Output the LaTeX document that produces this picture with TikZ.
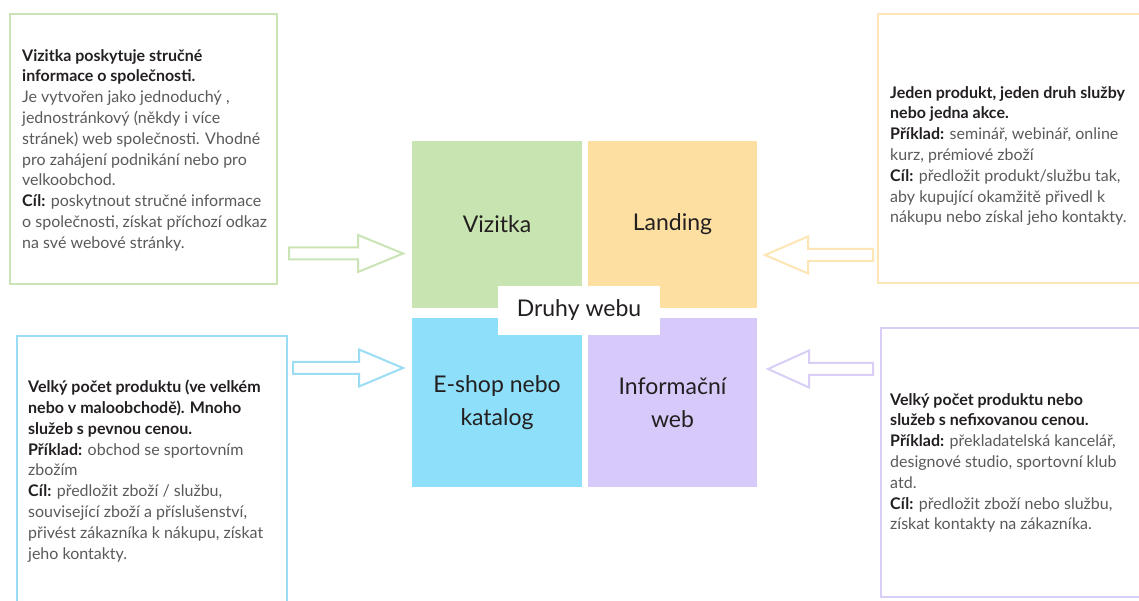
\documentclass[tikz,border=0pt]{standalone}
\usepackage{fontspec}
\setmainfont{Lato}
\usetikzlibrary{calc}
\definecolor{sqGreen}{HTML}{C8E4B0}
\definecolor{sqOrange}{HTML}{FDDFA2}
\definecolor{sqBlue}{HTML}{8EDFFA}
\definecolor{sqPurple}{HTML}{D7C9F9}
\definecolor{bdGreen}{HTML}{CBE4B6}
\definecolor{bdOrange}{HTML}{FDE5B4}
\definecolor{bdBlue}{HTML}{9ADDF4}
\definecolor{bdPurple}{HTML}{D9CFF6}
\definecolor{txtDark}{HTML}{231F20}
\definecolor{txtGrey}{HTML}{5A5A5C}
\newcommand\blockarr[4]{%
  \draw[#4] let \p1=(#1), \p2=(#2) in
    (\x1,{\y1+6pt}) -- ({\x2-(#3)},{\y1+6pt}) -- ({\x2-(#3)},{\y1+18.5pt}) --
    (\x2,\y2) -- ({\x2-(#3)},{\y1-18.5pt}) -- ({\x2-(#3)},{\y1-6pt}) --
    (\x1,{\y1-6pt}) -- cycle;}
\begin{document}
\begin{tikzpicture}[x=1pt,y=1pt,
  infobox/.style={draw, line width=2.6pt, fill=white, inner sep=0pt},
  infotext/.style={anchor=north west, align=left, inner sep=0pt, text=txtGrey,
    font=\fontsize{16}{20.8}\selectfont},
  square/.style={inner sep=0pt, align=center, text=txtDark,
    font=\fontsize{23}{33}\selectfont},
  arrowshape/.style={line width=2pt, fill=white, line join=miter}]
\clip (0,0) rectangle (1139,601);
\fill[white] (0,0) rectangle (1139,601);
% info boxes
\node[infobox, draw=bdGreen, minimum width=267, minimum height=270] (boxA) at (143.5,452) {};
\node[infobox, draw=bdOrange, minimum width=290, minimum height=269] (boxB) at (1023,452.5) {};
\node[infobox, draw=bdBlue, minimum width=270, minimum height=290] (boxC) at (152,120) {};
\node[infobox, draw=bdPurple, minimum width=290, minimum height=269] (boxD) at (1026,138.5) {};
% texts
\node[infotext] (tA) at (22,552) {\textbf{\color{txtDark}Vizitka poskytuje stručné}\\
\textbf{\color{txtDark}informace o společnosti.}\\
Je vytvořen jako jednoduchý ,\\
jednostránkový (někdy i více\\
stránek) web společnosti. Vhodné\\
pro zahájení podnikání nebo pro\\
velkoobchod.\\
\textbf{\color{txtDark}Cíl:} poskytnout stručné informace\\
o společnosti, získat příchozí odkaz\\
na své webové stránky.};
\node[infotext] (tB) at (890,515) {\textbf{\color{txtDark}Jeden produkt, jeden druh služby}\\
\textbf{\color{txtDark}nebo jedna akce.}\\
\textbf{\color{txtDark}Příklad:} seminář, webinář, online\\
kurz, prémiové zboží\\
\textbf{\color{txtDark}Cíl:} předložit produkt/službu tak,\\
aby kupující okamžitě přivedl k\\
nákupu nebo získal jeho kontakty.};
\node[infotext] (tC) at (28,221) {\textbf{\color{txtDark}Velký počet produktu (ve velkém}\\
\textbf{\color{txtDark}nebo v maloobchodě). Mnoho}\\
\textbf{\color{txtDark}služeb s pevnou cenou.}\\
\textbf{\color{txtDark}Příklad:} obchod se sportovním\\
zbožím\\
\textbf{\color{txtDark}Cíl:} předložit zboží / službu,\\
související zboží a příslušenství,\\
přivést zákazníka k nákupu, získat\\
jeho kontakty.};
\node[infotext] (tD) at (890,208) {\textbf{\color{txtDark}Velký počet produktu nebo}\\
\textbf{\color{txtDark}služeb s nefixovanou cenou.}\\
\textbf{\color{txtDark}Příklad:} překladatelská kancelář,\\
designové studio, sportovní klub\\
atd.\\
\textbf{\color{txtDark}Cíl:} předložit zboží nebo službu,\\
získat kontakty na zákazníka.};
% squares
\node[square, fill=sqGreen, minimum width=170, minimum height=167] (sqA) at (497,376.5) {Vizitka};
\node[square, fill=sqOrange, minimum width=169, minimum height=167] (sqB) at (672.5,376.5) {Landing};
\node[square, fill=sqBlue, minimum width=170, minimum height=169] (sqC) at (497,198.5) {E-shop nebo\\katalog};
\node[square, fill=sqPurple, minimum width=169, minimum height=169] (sqD) at (672.5,198.5) {Informační\\web};
\node[square, fill=white, minimum width=162, minimum height=49] (center) at (579,290.5) {Druhy webu};
% arrows
\coordinate (aS) at (289,347.5); \coordinate (aT) at (403,347.5);
\coordinate (cS) at (293,233); \coordinate (cT) at (403,233);
\coordinate (bS) at (873,346); \coordinate (bT) at (765,346);
\coordinate (dS) at (873,232); \coordinate (dT) at (768,232);
\blockarr{aS}{aT}{45pt}{arrowshape, draw=bdGreen}
\blockarr{cS}{cT}{44pt}{arrowshape, draw=bdBlue}
\blockarr{bS}{bT}{-43pt}{arrowshape, draw=bdOrange}
\blockarr{dS}{dT}{-41pt}{arrowshape, draw=bdPurple}
\end{tikzpicture}
\end{document}
